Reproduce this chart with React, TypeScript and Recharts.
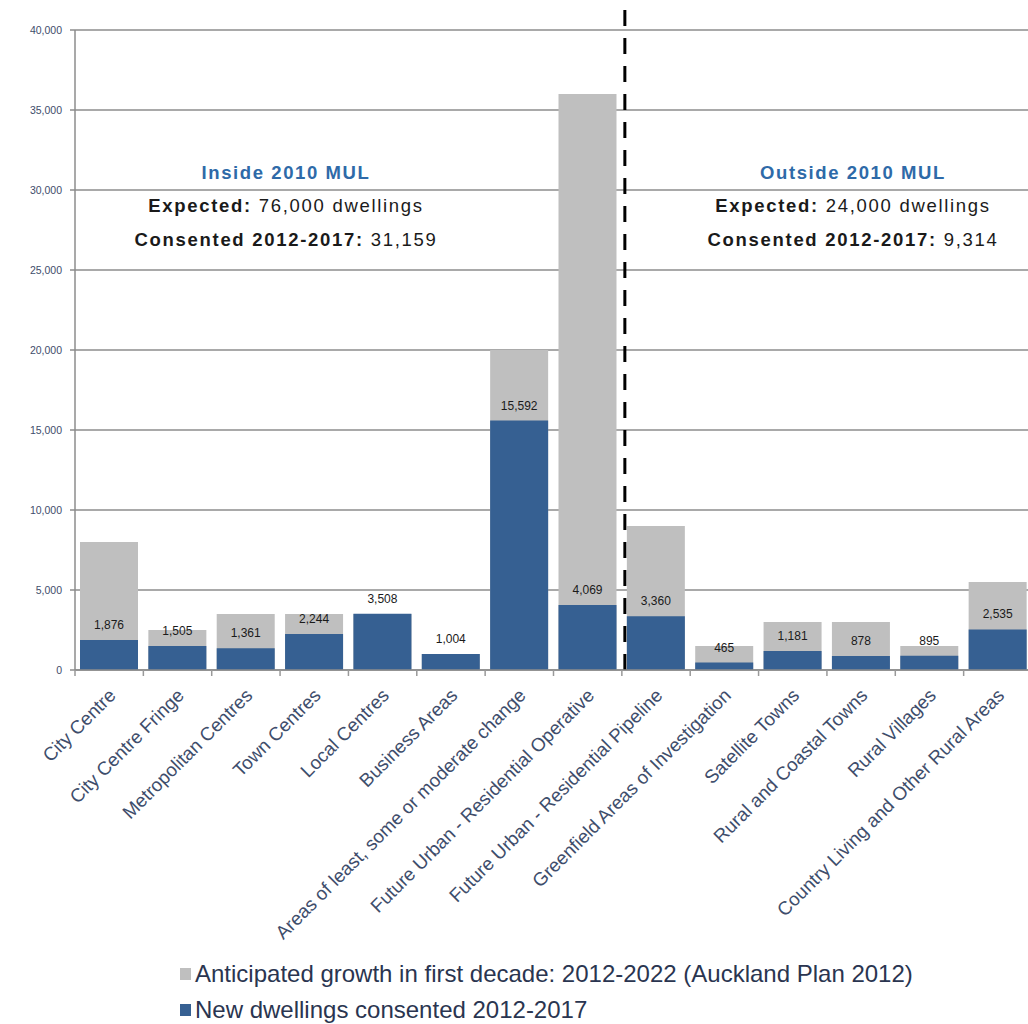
import React from 'react';
import { BarChart, Bar, XAxis, YAxis, CartesianGrid, LabelList, ReferenceLine } from 'recharts';

const categories = [
  'City Centre',
  'City Centre Fringe',
  'Metropolitan Centres',
  'Town Centres',
  'Local Centres',
  'Business Areas',
  'Areas of least, some or moderate change',
  'Future Urban - Residential Operative',
  'Future Urban - Residential Pipeline',
  'Greenfield Areas of Investigation',
  'Satellite Towns',
  'Rural and Coastal Towns',
  'Rural Villages',
  'Country Living and Other Rural Areas',
];

const anticipated = [8000, 2500, 3500, 3500, 3500, 1000, 20000, 36000, 9000, 1500, 3000, 3000, 1500, 5500];
const consented = [1876, 1505, 1361, 2244, 3508, 1004, 15592, 4069, 3360, 465, 1181, 878, 895, 2535];
const yTicks = [0, 5000, 10000, 15000, 20000, 25000, 30000, 35000, 40000];

const seriesNames = {
  anticipated: 'Anticipated growth in first decade: 2012-2022 (Auckland Plan 2012)',
  consented: 'New dwellings consented 2012-2017',
};

const data = categories.map((name, i) => ({
  name,
  anticipated: anticipated[i],
  consented: consented[i],
}));

const W = 1028;
const H = 1024;
const LEFT = 75;
const RIGHT_MARGIN = -4;
const BAND = (W - LEFT - RIGHT_MARGIN) / categories.length;
const GRAY = '#bfbfbf';
const BLUE = '#366092';
const AXIS_TEXT = '#3e4d6b';
const FONT = '"Liberation Sans", Arial, sans-serif';

const fmt = (v: number) => v.toLocaleString('en-US');

const XTick = (props: any) => {
  const { x, y, payload } = props;
  return (
    <g>
      <line x1={x - BAND / 2} y1={y - 8} x2={x - BAND / 2} y2={y - 2} stroke="#999" strokeWidth={1.5} />
      <g transform={`translate(${x + 3},${y + 14})`}>
        <text
          transform="rotate(-45)"
          textAnchor="end"
          dy="0.35em"
          fill={AXIS_TEXT}
          fontSize={18.8}
          fontFamily={FONT}
        >
          {payload.value}
        </text>
      </g>
    </g>
  );
};

const DashShape = (props: any) => {
  const { x1, y1, x2, y2 } = props;
  return (
    <line
      x1={x1 + 3}
      y1={Math.min(y1, y2) - 20}
      x2={x2 + 3}
      y2={Math.max(y1, y2)}
      stroke="#000"
      strokeWidth={3}
      strokeDasharray="16 12"
    />
  );
};

const annStyle: React.CSSProperties = {
  position: 'absolute',
  width: 400,
  textAlign: 'center',
  fontFamily: FONT,
  fontSize: 18.5,
  color: '#1a1a1a',
  lineHeight: '34px',
  letterSpacing: '1.7px',
};

const Annotation = ({ cx, title, expected, consentedTotal }: any) => (
  <div style={{ ...annStyle, left: cx - 200, top: 157 }}>
    <div style={{ color: '#2e6aa8', fontWeight: 'bold', lineHeight: '32px', letterSpacing: '1.6px' }}>{title}</div>
    <div>
      <b>Expected:</b> {expected} dwellings
    </div>
    <div>
      <b>Consented 2012-2017:</b> {consentedTotal}
    </div>
  </div>
);

export default function App() {
  return (
    <div style={{ position: 'absolute', left: 0, top: 0, width: W, height: H, background: '#fff', overflow: 'hidden' }}>
      <BarChart
        width={W}
        height={H}
        data={data}
        margin={{ top: 30, right: RIGHT_MARGIN, left: 0, bottom: 0 }}
        barGap={-58}
        barCategoryGap="14%"
      >
        <CartesianGrid vertical={false} stroke="#8c8c8c" strokeWidth={1.5} />
        <YAxis
          width={LEFT}
          domain={[0, 40000]}
          ticks={yTicks}
          tickFormatter={fmt}
          interval={0}
          axisLine={{ stroke: '#8c8c8c', strokeWidth: 1.5 }}
          tickLine={{ stroke: '#8c8c8c', strokeWidth: 1.5 }}
          tickSize={5}
          tick={{ fill: AXIS_TEXT, fontSize: 10.5, fontFamily: FONT }}
          tickMargin={8}
        />
        <XAxis
          dataKey="name"
          height={354}
          interval={0}
          tick={<XTick />}
          tickLine={false}
          axisLine={{ stroke: '#8c8c8c', strokeWidth: 1.5 }}
        />
        <Bar dataKey="anticipated" name={seriesNames.anticipated} fill={GRAY} barSize={58} isAnimationActive={false} />
        <Bar dataKey="consented" name={seriesNames.consented} fill={BLUE} barSize={58} isAnimationActive={false}>
          <LabelList
            dataKey="consented"
            position="top"
            offset={11}
            formatter={(v: any) => fmt(Number(v))}
            style={{ fill: '#1a1a1a', fontSize: 12, fontFamily: FONT }}
          />
        </Bar>
        <ReferenceLine x={categories[7]} position="end" ifOverflow="visible" shape={<DashShape />} />
      </BarChart>
      <Annotation cx={286} title="Inside 2010 MUL" expected="76,000" consentedTotal="31,159" />
      <Annotation cx={853} title="Outside 2010 MUL" expected="24,000" consentedTotal="9,314" />
      <div
        style={{
          position: 'absolute',
          left: 180,
          top: 956,
          fontFamily: FONT,
          fontSize: 24,
          color: '#2a3550',
          lineHeight: '36px',
        }}
      >
        {[
          { color: GRAY, label: seriesNames.anticipated },
          { color: BLUE, label: seriesNames.consented },
        ].map((it) => (
          <div key={it.label} style={{ display: 'flex', alignItems: 'center' }}>
            <span style={{ display: 'inline-block', width: 11, height: 12, background: it.color, marginRight: 4 }} />
            <span>{it.label}</span>
          </div>
        ))}
      </div>
    </div>
  );
}
